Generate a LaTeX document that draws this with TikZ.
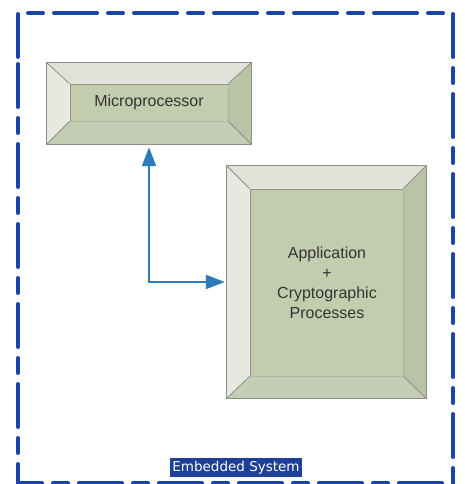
\documentclass[tikz,border=0pt]{standalone}
\usepackage{fontspec}
\setmainfont{Liberation Sans}
\newfontfamily\labelfont{DejaVu Sans}
\usetikzlibrary{arrows.meta}

\definecolor{frameblue}{HTML}{1A45A6}
\definecolor{linkblue}{HTML}{2C7BBA}
\definecolor{faceTop}{HTML}{E0E1D8}
\definecolor{faceLeft}{HTML}{E7E8E0}
\definecolor{faceRight}{HTML}{BAC3A6}
\definecolor{faceBottom}{HTML}{C6CDB5}
\definecolor{faceInner}{HTML}{C3CDAE}
\definecolor{bevelEdge}{HTML}{8C9082}
\definecolor{boxtext}{HTML}{333333}
\definecolor{tagblue}{HTML}{1E3F96}

\tikzset{
  outerbox/.style={rectangle, inner sep=0pt, draw=none},
  innerbox/.style={rectangle, inner sep=0pt, fill=faceInner, draw=bevelEdge, line width=0.8pt},
  boxlabel/.style={text=boxtext, font=\fontsize{16}{20}\selectfont, align=center},
  edge line/.style={draw=bevelEdge, line width=0.8pt},
  link/.style={draw=linkblue, line width=2pt,
    {Triangle[length=19pt,width=14pt]}-{Triangle[length=19pt,width=14pt]},
    shorten <=3pt, shorten >=2pt},
  systemframe/.style={draw=frameblue, line width=4pt, line cap=round,
    dash pattern=on 43pt off 11pt on 15pt off 11pt},
  systemtag/.style={fill=tagblue, text=white, inner xsep=2pt, inner ysep=0pt,
    minimum height=19pt, font=\labelfont\fontsize{13.5}{16}\selectfont},
}

% bevelled frame between an outer and an inner node
\newcommand{\bevelfaces}[2]{%
  \fill[faceTop] (#1.north west) -- (#1.north east) -- (#2.north east) -- (#2.north west) -- cycle;
  \fill[faceLeft] (#1.north west) -- (#2.north west) -- (#2.south west) -- (#1.south west) -- cycle;
  \fill[faceRight] (#1.north east) -- (#1.south east) -- (#2.south east) -- (#2.north east) -- cycle;
  \fill[faceBottom] (#1.south west) -- (#2.south west) -- (#2.south east) -- (#1.south east) -- cycle;
  \draw[edge line] (#1.north west) rectangle (#1.south east);
  \draw[edge line] (#1.north west) -- (#2.north west)
                   (#1.north east) -- (#2.north east)
                   (#1.south west) -- (#2.south west)
                   (#1.south east) -- (#2.south east);
}

\begin{document}
\begin{tikzpicture}[x=1pt, y=-1pt]
  \useasboundingbox (0,0) rectangle (464,484);

  % system boundary
  \draw[systemframe] (18,57) -- (18,13) -- (453,13) -- (453,483) -- (18,483) -- cycle;

  % microprocessor block
  \node[outerbox, minimum width=204pt, minimum height=81pt] (mpOuter) at (149,103.5) {};
  \node[innerbox, minimum width=158pt, minimum height=37pt] (mp) at (149,102.5) {};
  \bevelfaces{mpOuter}{mp}
  \node[boxlabel] (mpLabel) at (mp.center) {Microprocessor};

  % application block
  \node[outerbox, minimum width=199pt, minimum height=232pt] (appOuter) at (326.5,282) {};
  \node[innerbox, minimum width=153pt, minimum height=187pt] (app) at (326.5,282.5) {};
  \bevelfaces{appOuter}{app}
  \node[boxlabel] (appLabel) at (327,283)
    {Application\\+\\Cryptographic\\Processes};

  % data path between the blocks
  \draw[link] (mpOuter.south) |- (appOuter.west);

  % system name
  \node[systemtag] (sysTag) at (236,467.5) {Embedded System};
\end{tikzpicture}
\end{document}
